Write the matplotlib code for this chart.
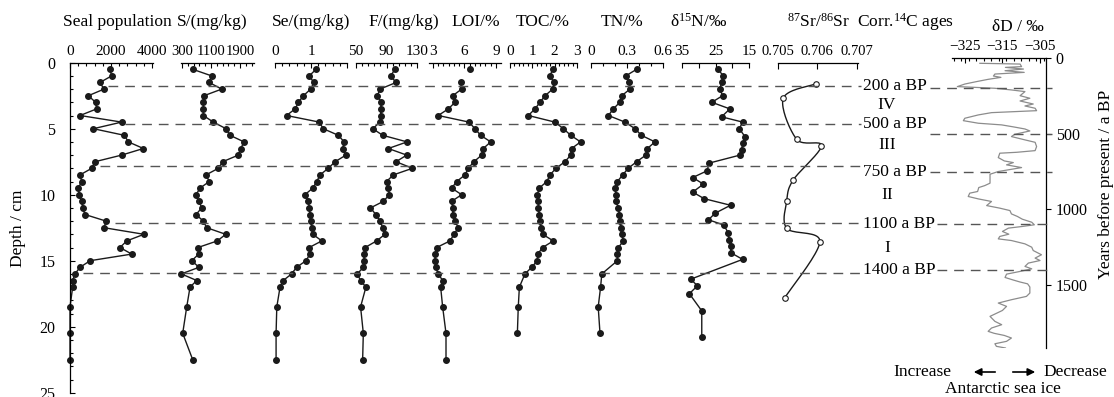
import numpy as np
import matplotlib
matplotlib.use('Agg')
import matplotlib.pyplot as plt
from matplotlib.lines import Line2D
from matplotlib.patches import FancyArrowPatch
from matplotlib.ticker import FixedLocator
from matplotlib.transforms import blended_transform_factory

plt.rcParams['font.family'] = ['Liberation Serif', 'DejaVu Serif']
plt.rcParams['mathtext.fontset'] = 'custom'
plt.rcParams['mathtext.rm'] = 'Liberation Serif'
plt.rcParams['mathtext.it'] = 'Liberation Serif:italic'
plt.rcParams['axes.linewidth'] = 0.9

# ---- sediment profile data (depth in cm) ----
depth = [0.5, 1.0, 1.5, 2.0, 2.5, 3.0, 3.5, 4.0, 4.5, 5.0, 5.5, 6.0, 6.5, 7.0, 7.5, 8.0,
         8.5, 9.0, 9.5, 10.0, 10.5, 11.0, 11.5, 12.0, 12.5, 13.0, 13.5, 14.0, 14.5, 15.0,
         15.5, 16.0, 16.5, 17.0, 18.5, 20.5, 22.5]
seal = [1950, 2030, 1460, 1660, 895, 1250, 1300, 490, 2520, 1140, 2650, 2850, 3580, 2520,
        1220, 1060, 490, 570, 410, 440, 570, 620, 730, 1760, 1660, 3610, 2770, 2440, 3010,
        980, 490, 240, 130, 130, 0, 0, 0]
s_conc = [595, 1119, 1053, 1395, 907, 888, 888, 888, 1164, 1514, 1624, 2011, 1920, 1853,
          1423, 1302, 962, 1053, 797, 686, 769, 844, 686, 888, 981, 1506, 1274, 741, 761,
          568, 769, 280, 706, 521, 430, 319, 595]
se_conc = [1.14, 0.95, 1.08, 0.99, 0.79, 0.65, 0.56, 0.32, 1.23, 1.34, 1.76, 1.92, 1.88,
           1.97, 1.67, 1.48, 1.25, 1.16, 1.05, 0.83, 0.93, 0.95, 0.97, 0.99, 1.02, 1.05,
           1.30, 0.95, 0.97, 0.86, 0.60, 0.46, 0.23, 0.14, 0.05, 0.03, 0.03]
f_conc = [101, 95.5, 102.5, 81.5, 78, 83, 82.4, 82.4, 81.5, 72, 85, 117, 92.4, 116.5,
          102.5, 124, 99, 90, 92.4, 93.7, 86, 69, 76, 81.5, 85, 88, 77, 62, 60.5, 60.5,
          59.6, 51.7, 56, 63, 56, 59.6, 58.7]

loi_depth = [0.5, 1.5, 2.0, 2.5, 3.0, 3.5, 4.0, 4.5, 5.0, 5.5, 6.0, 6.5, 7.0, 7.5, 8.0,
             8.5, 9.0, 9.5, 10.0, 10.5, 11.0, 11.5, 12.0, 12.5, 13.0, 13.5, 14.0, 14.5,
             15.0, 15.5, 16.0, 16.5, 17.0, 18.5, 20.5, 22.5]
loi = [6.52, 5.64, 5.73, 4.88, 5.10, 4.46, 3.50, 6.43, 7.00, 7.54, 8.50, 7.79, 7.64, 6.90,
       6.36, 6.05, 5.26, 4.78, 5.73, 4.78, 4.88, 4.88, 5.10, 5.41, 5.00, 4.62, 3.35, 3.19,
       3.19, 3.26, 3.50, 3.92, 3.73, 3.92, 4.24, 4.24]

toc_depth = [0.5, 1.0, 1.5, 2.0, 2.5, 3.0, 3.5, 4.0, 4.5, 5.0, 5.5, 6.0, 6.5, 7.0, 7.5,
             8.0, 8.5, 9.0, 9.5, 10.0, 10.5, 11.0, 11.5, 12.0, 12.5, 13.0, 13.5, 14.0,
             14.5, 15.0, 15.5, 16.0, 17.0, 18.5, 20.5]
toc = [1.91, 1.79, 1.97, 1.91, 1.57, 1.34, 1.12, 0.82, 2.01, 2.39, 2.72, 3.16, 2.76, 2.72,
       2.46, 2.06, 1.79, 1.65, 1.31, 1.22, 1.27, 1.27, 1.31, 1.34, 1.37, 1.46, 1.94, 1.46,
       1.24, 1.22, 0.97, 0.67, 0.42, 0.37, 0.33]

tn_depth = [0.5, 1.0, 1.5, 2.0, 2.5, 3.0, 3.5, 4.0, 4.5, 5.0, 5.5, 6.0, 6.5, 7.0, 7.5,
            8.0, 8.5, 9.0, 9.5, 10.0, 10.5, 11.0, 11.5, 12.0, 12.5, 13.0, 13.5, 14.0,
            14.5, 15.0, 16.0, 17.0, 18.5, 20.5]
tn = [0.38, 0.29, 0.32, 0.325, 0.256, 0.24, 0.186, 0.145, 0.283, 0.367, 0.42, 0.533, 0.47,
      0.458, 0.38, 0.31, 0.264, 0.22, 0.20, 0.208, 0.208, 0.228, 0.236, 0.24, 0.247, 0.256,
      0.27, 0.228, 0.22, 0.22, 0.09, 0.08, 0.06, 0.075]

d15n_depth = [0.5, 1.0, 1.5, 2.0, 2.5, 3.0, 3.5, 4.1, 4.5, 5.0, 5.6, 6.1, 6.6, 7.0, 7.6,
              8.2, 8.7, 9.2, 9.8, 10.3, 10.8, 11.4, 11.9, 12.3, 12.9, 13.4, 13.9, 14.4,
              14.9, 16.4, 16.9, 17.5, 18.8, 20.8]
d15n = [24.2, 22.7, 23.2, 23.7, 22.9, 26.1, 20.7, 23.2, 16.9, 17.9, 16.2, 16.9, 17.2, 17.7,
        26.8, 27.6, 31.8, 28.6, 31.8, 28.4, 20.5, 25.1, 27.1, 22.5, 21.2, 21.0, 20.5, 20.4,
        16.9, 32.4, 30.4, 32.8, 29.1, 29.1]

sr_depth = [1.6, 2.7, 5.8, 6.3, 8.9, 10.45, 12.55, 13.55, 17.8]
sr = [0.70597, 0.70514, 0.70548, 0.70611, 0.70539, 0.70523, 0.70523, 0.70607, 0.70518]

# ---- deuterium record (years BP) ----
dd_years = [35, 40, 57, 62, 73, 84, 95, 106, 119, 128, 141, 156, 172, 189, 194, 200, 211,
            222, 249, 266, 284, 304, 317, 332, 348, 361, 376, 398, 414, 431, 442, 455, 469,
            482, 504, 519, 541, 557, 585, 612, 623, 629, 658, 680, 691, 706, 724, 750, 768,
            827, 843, 856, 882, 893, 915, 931, 948, 975, 992, 1008, 1030, 1047, 1065, 1085,
            1102, 1113, 1124, 1146, 1164, 1179, 1195, 1206, 1228, 1250, 1272, 1300, 1322,
            1338, 1355, 1377, 1393, 1410, 1428, 1450, 1467, 1480, 1492, 1513, 1553, 1575,
            1597, 1619, 1641, 1668, 1707, 1740, 1762, 1784, 1806, 1819, 1833, 1850, 1872,
            1888, 1905, 1916]
dd = [-321.0, -310.3, -309.9, -314.2, -309.4, -314.3, -309.2, -317.0, -317.4, -315.4,
      -318.8, -321.9, -325.0, -327.0, -322.3, -317.0, -312.6, -309.0, -310.3, -307.7,
      -310.3, -306.8, -309.0, -306.3, -305.9, -317.9, -321.4, -325.0, -325.4, -321.4,
      -315.2, -312.1, -309.0, -307.7, -311.7, -312.6, -309.0, -306.3, -305.9, -306.3,
      -311.2, -315.7, -316.1, -314.5, -312.1, -313.9, -309.9, -316.1, -318.3, -318.3,
      -319.7, -321.3, -321.6, -323.7, -324.1, -321.4, -317.9,
      -319.2, -315.7, -313.0, -312.6, -311.0, -309.7, -307.2, -306.5, -309.7, -313.4,
      -315.0, -313.3, -315.7, -316.1, -312.6, -309.0, -307.2, -306.8, -304.6, -306.3,
      -305.0, -308.1, -309.0, -307.2, -310.3, -313.9, -314.3, -312.1, -310.3, -308.3,
      -307.7, -307.7, -308.6, -312.6, -316.1, -313.9, -315.0, -318.3, -317.0, -315.2,
      -317.9, -318.8, -317.2, -314.5, -312.6, -313.9, -317.0, -316.6, -314.2]

# zone boundaries
bound_depth = [1.77, 4.64, 7.83, 12.14, 15.93]
bound_years = [200, 500, 750, 1100, 1400]
bound_labels = ['200 a BP', '500 a BP', '750 a BP', '1100 a BP', '1400 a BP']
zones = ['IV', 'III', 'II', 'I']

W, H = 1114, 397
TOP, BOT = 62.7, 392.7
FS = 12.5
TFS = 11
INK = '#1a1a1a'

fig = plt.figure(figsize=(W / 100, H / 100), dpi=100)


def fx(x):
    return x / W


def fy(y):
    return 1 - y / H


def add_px_axes(x0, x1, y0, y1):
    ax = fig.add_axes([fx(x0), fy(y1), (x1 - x0) / W, (y1 - y0) / H])
    ax.patch.set_alpha(0)
    for s in ax.spines.values():
        s.set_visible(False)
    return ax


def depth_panel(x0, x1, xlim, major, labels, minor, lsize=TFS, mlen=2.5):
    ax = add_px_axes(x0, x1, TOP, BOT)
    ax.set_xlim(*xlim)
    ax.set_ylim(25, 0)
    ax.spines['top'].set_visible(True)
    ax.xaxis.tick_top()
    ax.xaxis.set_major_locator(FixedLocator(major))
    ax.xaxis.set_minor_locator(FixedLocator(minor))
    ax.set_xticklabels(labels)
    ax.tick_params(axis='x', which='both', direction='in', top=True, bottom=False,
                   labeltop=True, labelbottom=False, pad=3.5, labelsize=lsize, width=0.8)
    ax.tick_params(axis='x', which='major', length=3.5)
    ax.tick_params(axis='x', which='minor', length=mlen)
    ax.set_yticks([])
    return ax


def profile(ax, vals, dep):
    ax.plot(vals, dep, '-o', color=INK, lw=1.0, ms=4, clip_on=False)


ax_seal = depth_panel(70, 153, (0, 4050), [0, 2000, 4000], ['0', '2000', '4000'],
                      np.arange(0, 4001, 400))
ax_seal.spines['left'].set_visible(True)
ax_seal.yaxis.set_major_locator(FixedLocator([0, 5, 10, 15, 20, 25]))
ax_seal.yaxis.set_minor_locator(FixedLocator(np.arange(0, 26, 1)))
ax_seal.tick_params(axis='y', which='both', direction='in', left=True, right=False,
                    labelleft=True, pad=10.5, labelsize=11.5, width=0.8)
ax_seal.tick_params(axis='y', which='major', length=3.5)
ax_seal.tick_params(axis='y', which='minor', length=2.5)
profile(ax_seal, seal, depth)

ax_s = depth_panel(181, 254, (272, 2286), [300, 1100, 1900], ['300', '1100', '1900'],
                   np.arange(300, 2290, 160), lsize=10.5)
profile(ax_s, s_conc, depth)

ax_se = depth_panel(275, 347, (0, 2), [0, 1, 2], ['0', '1', ''], np.arange(0, 2.01, 0.2))
profile(ax_se, se_conc, depth)

ax_f = depth_panel(356, 417, (50, 130), [50, 90, 130], ['50', '90', '130'],
                   np.arange(50, 131, 8))
profile(ax_f, f_conc, depth)

ax_loi = depth_panel(429, 501, (2.62, 9.48), [3, 6, 9], ['3', '6', '9'],
                     np.arange(3, 9.01, 0.5))
ax_loi.plot(loi[1:], loi_depth[1:], '-', color=INK, lw=1.0, clip_on=False)
ax_loi.plot(loi, loi_depth, 'o', color=INK, ms=4, clip_on=False)

ax_toc = depth_panel(510, 577, (0, 3), [0, 1, 2, 3], ['0', '1', '2', '3'],
                     np.arange(0, 3.01, 0.2))
profile(ax_toc, toc, toc_depth)

ax_tn = depth_panel(591, 663, (0, 0.6), [0, 0.3, 0.6], ['0', '0.3', '0.6'],
                    np.arange(0, 0.61, 0.1))
profile(ax_tn, tn, tn_depth)

ax_n = depth_panel(682, 749, (35, 15), [35, 25, 15], ['35', '25', '15'],
                   [30, 20], mlen=3.5)
profile(ax_n, d15n, d15n_depth)

ax_sr = depth_panel(777.7, 857.7, (0.705, 0.70703), [0.705, 0.706, 0.707],
                    ['0.705', '0.706', '0.707'], [], lsize=10.5)
ax_sr.tick_params(axis='x', which='major', length=4.5)


def catmull_rom(xp, yp, n=20):
    P = np.column_stack([xp, yp]).astype(float)
    P = np.vstack([P[0], P, P[-1]])
    out = []
    t = np.linspace(0, 1, n, endpoint=False)[:, None]
    for i in range(1, len(P) - 2):
        p0, p1, p2, p3 = P[i - 1], P[i], P[i + 1], P[i + 2]
        seg = 0.5 * (2 * p1 + (-p0 + p2) * t + (2 * p0 - 5 * p1 + 4 * p2 - p3) * t ** 2
                     + (-p0 + 3 * p1 - 3 * p2 + p3) * t ** 3)
        out.append(seg)
    out.append(P[-2][None])
    return np.vstack(out)


# smooth the Sr line in a space scaled like the panel
sx = (np.array(sr) - 0.705) * 39500
sy = np.array(sr_depth) * 13.2
curve = catmull_rom(sx, sy)
ax_sr.plot(curve[:, 0] / 39500 + 0.705, curve[:, 1] / 13.2, '-', color=INK, lw=1.0,
           clip_on=False)
ax_sr.plot(sr, sr_depth, 'o', ms=4, mfc='white', mec=INK, mew=0.8, clip_on=False, zorder=3)

# deuterium panel on a years axis
ax_dd = add_px_axes(951.7, 1046, 58, 348)
ax_dd.set_xlim(-328.5, -303.4)
ax_dd.set_ylim(1916, 0)
ax_dd.spines['top'].set_visible(True)
ax_dd.spines['right'].set_visible(True)
ax_dd.plot(dd, dd_years, color='#8c8c8c', lw=0.9)
ax_dd.xaxis.tick_top()
ax_dd.xaxis.set_major_locator(FixedLocator([-325, -315, -305]))
ax_dd.xaxis.set_minor_locator(FixedLocator(np.arange(-328, -303, 2)))
ax_dd.set_xticklabels(['\u2212325', '\u2212315', '\u2212305'])
ax_dd.tick_params(axis='x', which='both', direction='in', top=True, bottom=False,
                  labeltop=True, labelbottom=False, pad=3.5, labelsize=TFS, width=0.8)
ax_dd.tick_params(axis='x', which='major', length=3.5)
ax_dd.tick_params(axis='x', which='minor', length=2.0)
ax_dd.yaxis.tick_right()
ax_dd.yaxis.set_major_locator(FixedLocator([0, 500, 1000, 1500]))
ax_dd.tick_params(axis='y', which='major', direction='out', right=True, left=False,
                  labelright=True, labelleft=False, length=3.5, pad=3.5,
                  labelsize=11.5, width=0.8)

# zone boundary dashes and labels
trans_d = blended_transform_factory(fig.transFigure, ax_seal.transData)
trans_y = blended_transform_factory(fig.transFigure, ax_dd.transData)
left_start = [108, 125, 100, 115, 83]
right_start = [930, 930, 930, 937, 937]
label_on_years = [False, False, True, True, True]
dash = dict(color='#555555', lw=1.0, linestyle=(0, (7, 5)))
for i in range(len(bound_depth)):
    fig.add_artist(Line2D([fx(left_start[i]), fx(861)], [bound_depth[i]] * 2,
                          transform=trans_d, **dash))
    fig.add_artist(Line2D([fx(right_start[i]), fx(1052)], [bound_years[i]] * 2,
                          transform=trans_y, **dash))
    if label_on_years[i]:
        ax_dd.text(fx(863), bound_years[i], bound_labels[i], transform=trans_y,
                   ha='left', va='center', fontsize=FS)
    else:
        ax_seal.text(fx(863), bound_depth[i], bound_labels[i], transform=trans_d,
                     ha='left', va='center', fontsize=FS)
for i, z in enumerate(zones):
    mid = (bound_depth[i] + bound_depth[i + 1]) / 2
    ax_seal.text(fx(887), mid, z, transform=trans_d, ha='center', va='center', fontsize=FS)

# column titles
titles = [('Seal population', 117), ('S/(mg/kg)', 212), ('Se/(mg/kg)', 311),
          ('F/(mg/kg)', 404), ('LOI/%', 476), ('TOC/%', 543), ('TN/%', 622),
          ('δ$^{\\mathrm{15}}$N/‰', 699), ('$^{\\mathrm{87}}$Sr/$^{\\mathrm{86}}$Sr', 818),
          ('Corr.$^{\\mathrm{14}}$C ages', 906)]
for t, x in titles:
    fig.text(fx(x), fy(22), t, ha='center', va='center', fontsize=FS)
fig.text(fx(1018), fy(27), 'δD / ‰', ha='center', va='center', fontsize=FS)

fig.text(fx(18), fy(228), 'Depth / cm', rotation=90, ha='center', va='center', fontsize=FS)
fig.text(fx(1106), fy(184), 'Years before present / a BP', rotation=90,
         ha='center', va='center', fontsize=FS)

fig.text(fx(922), fy(372), 'Increase', ha='center', va='center', fontsize=FS)
fig.text(fx(1075), fy(372), 'Decrease', ha='center', va='center', fontsize=FS)
fig.text(fx(1003), fy(389), 'Antarctic sea ice', ha='center', va='center', fontsize=FS)
for a, b in [(998, 971), (1010, 1038)]:
    fig.add_artist(FancyArrowPatch((fx(a), fy(372)), (fx(b), fy(372)),
                                   transform=fig.transFigure, arrowstyle='-|>',
                                   mutation_scale=11, lw=1.2, color='k'))

fig.savefig('out.png', dpi=100)
